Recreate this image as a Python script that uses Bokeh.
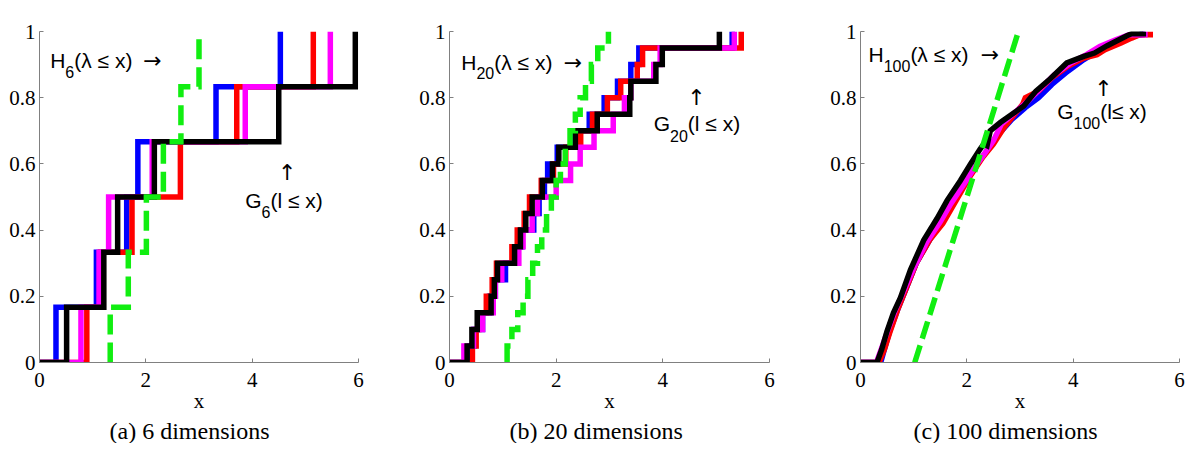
from bokeh.plotting import figure
from bokeh.layouts import row
from bokeh.models import Range1d, FixedTicker, CustomJSTickFormatter, Label, Title
from bokeh.embed import file_html
from bokeh.resources import INLINE

# ---------------- data ----------------
# Panel (a) 6 dimensions: x at which each empirical CDF steps up by 1/6
a_blue = [0.31, 1.07, 1.64, 1.85, 3.32, 4.53]
a_red = [0.89, 1.15, 1.74, 2.65, 3.71, 5.15]
a_magenta = [0.78, 1.12, 1.30, 2.12, 3.87, 5.47]
a_black = [0.51, 1.21, 1.47, 2.16, 4.50, 5.94]
a_green = [1.33, 1.67, 2.01, 2.33, 2.66, 3.00]

# Panel (b) 20 dimensions: x at which each empirical CDF steps up by 1/20
b_blue = [0.38, 0.46, 0.62, 0.75, 0.86, 1.05, 1.27, 1.36, 1.58, 1.68,
          1.78, 1.84, 2.02, 2.30, 2.62, 2.90, 3.15, 3.40, 3.55, 5.30]
b_red = [0.43, 0.50, 0.55, 0.69, 0.80, 0.88, 1.17, 1.27, 1.40, 1.50,
         1.72, 1.95, 2.18, 2.46, 2.68, 2.96, 3.21, 3.52, 3.62, 5.47]
b_magenta = [0.27, 0.45, 0.62, 0.82, 0.86, 0.98, 1.30, 1.38, 1.55, 1.65,
             2.00, 2.27, 2.45, 2.71, 3.07, 3.28, 3.40, 3.83, 3.95, 5.34]
b_black = [0.33, 0.42, 0.52, 0.78, 0.84, 0.90, 1.22, 1.33, 1.43, 1.55,
           1.74, 1.93, 2.05, 2.36, 2.77, 3.38, 3.40, 3.87, 3.99, 5.06]
b_green = [1.08, 1.17, 1.28, 1.38, 1.47, 1.56, 1.65, 1.73, 1.82, 1.91,
           2.00, 2.08, 2.17, 2.26, 2.36, 2.45, 2.55, 2.66, 2.78, 2.98]

# Panel (c) 100 dimensions: points read along each (finely stepped) curve
c_blue_x = [0, 0.38, 0.45, 0.55, 0.70, 0.85, 1.05, 1.30, 1.55, 1.75, 2.00, 2.20, 2.40,
            2.60, 2.85, 3.10, 3.35, 3.60, 3.90, 4.20, 4.50, 4.80, 5.05, 5.30, 5.30]
c_blue_y = [0, 0, 0.04, 0.095, 0.16, 0.22, 0.30, 0.37, 0.43, 0.48, 0.55, 0.60, 0.645,
            0.69, 0.735, 0.77, 0.80, 0.84, 0.88, 0.915, 0.945, 0.97, 0.985, 0.99, 1.0]
c_red_x = [0, 0.35, 0.45, 0.55, 0.70, 0.85, 1.05, 1.30, 1.55, 1.80, 2.05, 2.30, 2.50, 2.70,
           2.90, 3.05, 3.10, 3.35, 3.60, 3.90, 4.20, 4.45, 4.60, 4.90, 5.10, 5.25, 5.45, 5.45]
c_red_y = [0, 0, 0.04, 0.09, 0.16, 0.22, 0.30, 0.37, 0.42, 0.49, 0.56, 0.62, 0.66, 0.71,
           0.75, 0.78, 0.80, 0.82, 0.86, 0.895, 0.92, 0.93, 0.945, 0.965, 0.98, 0.99, 0.99, 1.0]
c_magenta_x = [0, 0.30, 0.40, 0.52, 0.66, 0.80, 1.00, 1.25, 1.50, 1.70, 1.95, 2.15, 2.35,
               2.50, 2.65, 2.90, 3.15, 3.40, 3.65, 3.95, 4.25, 4.50, 4.80, 5.05, 5.35, 5.35]
c_magenta_y = [0, 0, 0.045, 0.10, 0.16, 0.21, 0.285, 0.365, 0.425, 0.48, 0.54, 0.59, 0.635,
               0.67, 0.72, 0.755, 0.79, 0.83, 0.87, 0.905, 0.93, 0.955, 0.975, 0.99, 0.99, 1.0]
c_black_x = [0, 0.31, 0.40, 0.50, 0.62, 0.75, 0.94, 1.19, 1.44, 1.63, 1.88, 2.07, 2.25, 2.32,
             2.38, 2.44, 2.63, 2.85, 3.07, 3.30, 3.57, 3.88, 4.20, 4.40, 4.64, 5.01, 5.10, 5.32, 5.32]
c_black_y = [0, 0, 0.04, 0.095, 0.15, 0.195, 0.28, 0.37, 0.435, 0.49, 0.55, 0.60, 0.645, 0.66,
             0.655, 0.70, 0.725, 0.75, 0.775, 0.82, 0.857, 0.905, 0.925, 0.935, 0.957, 0.987,
             0.993, 0.993, 1.0]
c_green_x = [1.02, 2.00, 2.97]
c_green_y = [0.0, 0.5, 1.0]

y_ticks = [0, 0.2, 0.4, 0.6, 0.8, 1]
x_ticks = [0, 2, 4, 6]

BLUE, RED, MAGENTA, BLACK, GREEN = "#0000ff", "#ff0000", "#ff00ff", "#000000", "#11ee11"
SERIF = "Liberation Serif"
SANS = "Liberation Sans"
ARROWFONT = "DejaVu Sans"


def ecdf(jumps, from_zero=True):
    n = len(jumps)
    xs = ([0.0] if from_zero else [jumps[0]]) + list(jumps)
    ys = [k / n for k in range(n + 1)]
    return xs, ys


def make_fig(width, left, right, caption, cap_offset):
    p = figure(width=width, height=443, x_range=Range1d(0, 6), y_range=Range1d(0, 1),
               output_backend="svg", toolbar_location=None,
               min_border_left=left, min_border_right=right,
               min_border_top=31, min_border_bottom=78)
    p.grid.visible = False
    p.outline_line_color = None
    p.background_fill_color = "white"
    p.border_fill_color = "white"
    p.xaxis.ticker = FixedTicker(ticks=x_ticks)
    p.yaxis.ticker = FixedTicker(ticks=y_ticks)
    p.yaxis.formatter = CustomJSTickFormatter(code="return (Math.round(tick*10)/10).toString();")
    for ax in (p.xaxis[0], p.yaxis[0]):
        ax.axis_line_color = "#808080"
        ax.major_tick_line_color = "#808080"
        ax.minor_tick_line_color = None
        ax.major_tick_in = 4
        ax.major_tick_out = 0
        ax.major_label_text_font = SERIF
        ax.major_label_text_font_size = "21px"
        ax.major_label_text_color = "black"
    p.xaxis[0].major_label_standoff = 10
    p.yaxis[0].major_label_standoff = 4
    p.xaxis[0].axis_label = "x"
    p.xaxis[0].axis_label_text_font = SERIF
    p.xaxis[0].axis_label_text_font_style = "normal"
    p.xaxis[0].axis_label_text_font_size = "21px"
    p.xaxis[0].axis_label_text_color = "black"
    p.xaxis[0].axis_label_standoff = -1
    t = Title(text=caption, align="left", text_font=SERIF, text_font_size="24px",
              text_font_style="normal", text_color="black", standoff=0, offset=cap_offset)
    p.add_layout(t, "below")
    return p


def add_text(p, x, y, ysub, main, sub, rest, w_main, w_sub, xarrow=None):
    p.add_layout(Label(x=x, y=y, text=main, text_font=SANS, text_font_size="21px",
                       text_color="black", text_baseline="middle", text_align="left"))
    p.add_layout(Label(x=x, y=ysub, x_offset=w_main, text=sub, text_font=SANS,
                       text_color="black", text_font_size="16px", text_baseline="middle",
                       text_align="left"))
    p.add_layout(Label(x=x, y=y, x_offset=w_main + w_sub, text=rest, text_font=SANS,
                       text_color="black", text_font_size="21px", text_baseline="middle",
                       text_align="left"))
    if xarrow is not None:
        p.add_layout(Label(x=xarrow, y=y, text="→", text_font=ARROWFONT,
                           text_font_size="22px", text_color="black",
                           text_baseline="middle", text_align="left"))


def add_arrow(p, x, y):
    p.add_layout(Label(x=x, y=y, text="↑", text_font=ARROWFONT, text_font_size="22px",
                       text_color="black", text_baseline="middle", text_align="center"))


LW = 5.5
DASH = "20 8"

# ---------- panel a ----------
pa = make_fig(408, 39, 50, "(a) 6 dimensions", 70)
for data, col in ((a_blue, BLUE), (a_red, RED), (a_magenta, MAGENTA), (a_black, BLACK)):
    xs, ys = ecdf(data)
    pa.step(xs, ys, mode="after", line_color=col, line_width=LW, line_join="miter")
xs, ys = ecdf(a_green, from_zero=False)
pa.step(xs, ys, mode="after", line_color=GREEN, line_width=LW, line_dash=DASH, line_join="miter")
add_text(pa, 0.20, 0.912, 0.877, "H", "6", "(λ ≤ x)", 15.2, 8.9, xarrow=1.95)
add_arrow(pa, 4.66, 0.574)
add_text(pa, 3.87, 0.488, 0.456, "G", "6", "(l ≤ x)", 16.3, 8.9)

# ---------- panel b ----------
pb = make_fig(400, 41, 39, "(b) 20 dimensions", 60)
for data, col in ((b_blue, BLUE), (b_red, RED), (b_magenta, MAGENTA), (b_black, BLACK)):
    xs, ys = ecdf(data)
    pb.step(xs, ys, mode="after", line_color=col, line_width=LW, line_join="miter")
xs, ys = ecdf(b_green, from_zero=False)
pb.step(xs, ys, mode="after", line_color=GREEN, line_width=LW, line_dash=DASH, line_join="miter")
add_text(pb, 0.22, 0.907, 0.875, "H", "20", "(λ ≤ x)", 15.2, 17.8, xarrow=2.14)
add_arrow(pb, 4.63, 0.80)
add_text(pb, 3.83, 0.721, 0.685, "G", "20", "(l ≤ x)", 16.3, 17.8)

# ---------- panel c ----------
pc = make_fig(384, 52, 13, "(c) 100 dimensions", 53)
for xs, ys, col in ((c_blue_x, c_blue_y, BLUE), (c_red_x, c_red_y, RED),
                    (c_magenta_x, c_magenta_y, MAGENTA), (c_black_x, c_black_y, BLACK)):
    pc.line(xs, ys, line_color=col, line_width=LW, line_join="miter")
pc.line(c_green_x, c_green_y, line_color=GREEN, line_width=5.5, line_dash="18 7")
add_text(pc, 0.15, 0.932, 0.897, "H", "100", "(λ ≤ x)", 15.2, 26.7, xarrow=2.26)
add_arrow(pc, 4.57, 0.829)
add_text(pc, 3.70, 0.757, 0.725, "G", "100", "(l≤ x)", 16.3, 26.7)

layout = row(pa, pb, pc)
open("out.html", "w").write(file_html(layout, INLINE))
